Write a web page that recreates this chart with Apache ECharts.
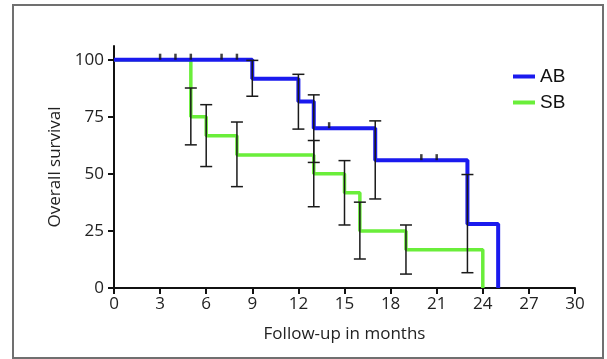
<!DOCTYPE html>
<html>
<head>
<meta charset="utf-8">
<script src="https://cdn.jsdelivr.net/npm/echarts@6/dist/echarts.min.js"></script>
<style>
html,body{margin:0;padding:0;background:#fff;}
#chart{position:absolute;left:0;top:0;width:607px;height:359px;}
#frame{position:absolute;left:12px;top:4px;width:588px;height:351px;border:2px solid #707070;pointer-events:none;}
</style>
</head>
<body>
<div id="chart"></div>
<div id="frame"></div>
<script>
// Kaplan-Meier step data (months, survival %)
const abTimes = [0, 9, 12, 13, 17, 23, 25];
const abSurv  = [100, 91.7, 81.7, 70, 56, 28, 0];
const sbTimes = [0, 5, 6, 8, 13, 15, 16, 19, 24];
const sbSurv  = [100, 75, 66.7, 58.3, 50, 41.7, 25, 16.7, 0];

// Error bars: time, lower, upper
const abErrT  = [9, 12, 13, 17, 23];
const abErrLo = [84, 69.6, 55, 39, 6.7];
const abErrHi = [99.7, 93.6, 84.6, 73.2, 49.7];
const sbErrT  = [5, 6, 8, 13, 15, 16, 19];
const sbErrLo = [62.7, 53.2, 44.4, 35.6, 27.6, 12.7, 6.1];
const sbErrHi = [87.6, 80.3, 72.7, 64.6, 55.8, 37.6, 27.6];

// Censored observations
const abCensT = [3, 4, 5, 7, 8, 14, 20, 21];
const abCensS = [100, 100, 100, 100, 100, 70, 56, 56];

const xTicks = [0, 3, 6, 9, 12, 15, 18, 21, 24, 27, 30];
const yTicks = [0, 25, 50, 75, 100];

const BLUE = '#1a1aee';
const GREEN = '#6aee3a';
const FONT = 'Open Sans';

const zip = (a, b) => a.map((v, i) => [v, b[i]]);
const errData = (t, lo, hi) => t.map((v, i) => [v, lo[i], hi[i]]);

function errRender(params, api) {
  const x = api.value(0);
  const lo = api.coord([x, api.value(1)]);
  const hi = api.coord([x, api.value(2)]);
  const w = 6;
  const style = {stroke: '#1a1a1a', lineWidth: 1.5, fill: null};
  return {
    type: 'group',
    children: [
      {type: 'line', shape: {x1: lo[0], y1: lo[1], x2: hi[0], y2: hi[1]}, style},
      {type: 'line', shape: {x1: lo[0] - w, y1: lo[1], x2: lo[0] + w, y2: lo[1]}, style},
      {type: 'line', shape: {x1: hi[0] - w, y1: hi[1], x2: hi[0] + w, y2: hi[1]}, style}
    ]
  };
}

const chart = echarts.init(document.getElementById('chart'), null, {renderer: 'canvas'});
chart.setOption({
  animation: false,
  backgroundColor: '#fff',
  textStyle: {fontFamily: FONT},
  grid: {left: 114, right: 32, top: 46, bottom: 71, containLabel: false},
  legend: {
    orient: 'vertical',
    left: 508, top: 62,
    itemWidth: 22, itemHeight: 4, itemGap: 7,
    icon: 'rect',
    data: ['AB', 'SB'],
    textStyle: {fontFamily: 'Liberation Sans', fontSize: 19, color: '#111'}
  },
  xAxis: {
    type: 'value', min: 0, max: 30, interval: 3,
    name: 'Follow-up in months', nameLocation: 'middle', nameGap: 38,
    nameTextStyle: {fontFamily: FONT, fontSize: 17, color: '#222'},
    axisLine: {show: true, lineStyle: {color: '#111', width: 2}},
    axisTick: {show: true, length: 6, lineStyle: {color: '#111', width: 2}},
    axisLabel: {fontFamily: FONT, fontSize: 17, color: '#222', margin: 8,
      customValues: xTicks},
    splitLine: {show: false}
  },
  yAxis: {
    type: 'value', min: 0, max: 106,
    name: 'Overall survival', nameLocation: 'middle', nameGap: 44, nameRotate: 90,
    nameTextStyle: {fontFamily: FONT, fontSize: 17, color: '#222'},
    axisLine: {show: true, lineStyle: {color: '#111', width: 2}},
    axisTick: {show: true, length: 6, lineStyle: {color: '#111', width: 2}, customValues: yTicks},
    axisLabel: {fontFamily: FONT, fontSize: 17, color: '#222', margin: 10, customValues: yTicks},
    splitLine: {show: false}
  },
  series: [
    {
      name: 'SB', type: 'line', step: 'end', data: zip(sbTimes, sbSurv),
      showSymbol: false, symbol: 'none', z: 2,
      color: GREEN, lineStyle: {color: GREEN, width: 3.5}
    },
    {
      name: 'AB', type: 'line', step: 'end', data: zip(abTimes, abSurv),
      showSymbol: false, symbol: 'none', z: 3,
      color: BLUE, lineStyle: {color: BLUE, width: 4}
    },
    {
      type: 'custom', renderItem: errRender, data: errData(sbErrT, sbErrLo, sbErrHi), z: 5,
      encode: {x: 0, y: [1, 2]}, silent: true
    },
    {
      type: 'custom', renderItem: errRender, data: errData(abErrT, abErrLo, abErrHi), z: 5,
      encode: {x: 0, y: [1, 2]}, silent: true
    },
    {
      type: 'scatter', data: zip(abCensT, abCensS), symbol: 'rect', symbolSize: [2.5, 6],
      symbolOffset: [0, -3], itemStyle: {color: '#111'}, z: 6, silent: true
    }
  ]
});
</script>
</body>
</html>
